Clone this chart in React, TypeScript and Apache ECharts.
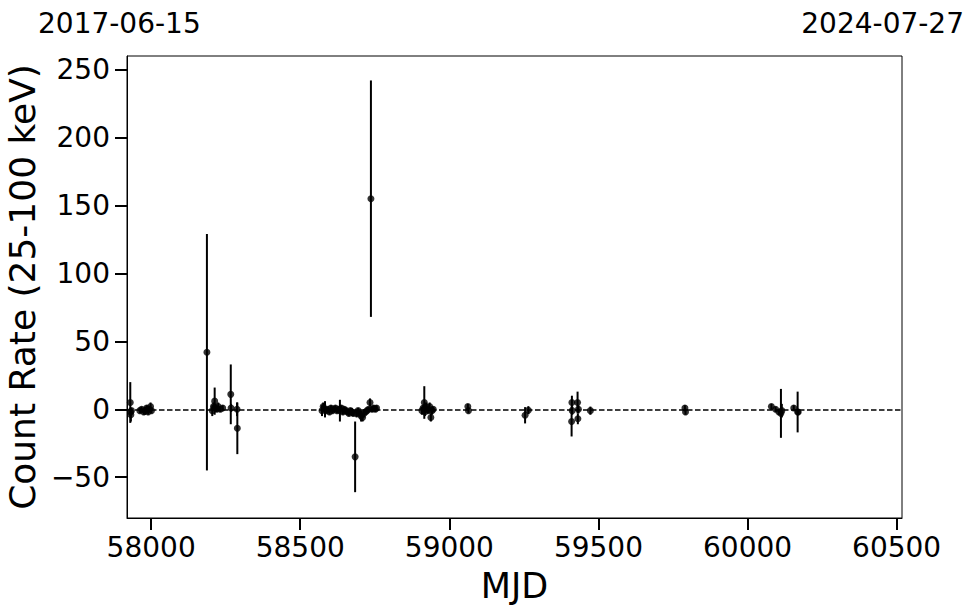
import React, { useEffect, useRef } from "react";
import * as echarts from "echarts";

// Observation times (MJD), count rates and 1-sigma errors
const mjd: number[] = [
  57930, 57931, 57932, 57934,
  57962, 57968, 57975, 57980, 57985, 57990, 57994, 57998, 58001,
  58187, 58205, 58209, 58213, 58216, 58220, 58225, 58232, 58240,
  58267, 58268, 58288, 58289,
  58573, 58577, 58583, 58588, 58593, 58598, 58603, 58608, 58613, 58618,
  58623, 58628, 58633, 58638, 58643, 58648, 58653, 58658, 58663, 58668,
  58673, 58678, 58684, 58689, 58694, 58699, 58704, 58709, 58714, 58719,
  58724, 58729, 58734, 58737, 58741, 58746, 58752, 58756,
  58908, 58912, 58916, 58918, 58922, 58926, 58930, 58934, 58938, 58942, 58946,
  59062, 59064,
  59254, 59265,
  59410, 59411, 59412, 59430, 59431, 59433, 59473,
  59790, 59792,
  60080, 60094, 60105, 60112, 60115, 60155, 60168, 60170,
];
const rate: number[] = [
  5, -2, -4, -1,
  -1, 0, -2, -1, 1, -2, 0, 2, -1,
  42, -1, 2, 6, 1, 0, 2, 0, 1,
  11, 1, 0, -14,
  -1, 2, 0, -1, 0, -2, 1, -1, 0, 1,
  -1, 0, -1, 1, -2, 0, -1, -2, -3, -1,
  -2, -3, -35, -3, -1, -3, -5, -6, -3, -2,
  -1, 0, 5, 155, 0, 1, 0, 1,
  -1, 1, 5, -2, 2, 0, -1, 2, -6, -1, 0,
  2, -1,
  -4.4, -0.7,
  -9, 5, -1, 5, -7, 0, -1,
  1, -2,
  2, 0, -2, -3, -1, 1, -2, -2,
];
const err: number[] = [
  15, 3, 5, 2,
  2, 2, 2, 3, 2, 2, 2, 3, 2,
  87, 4, 3, 10, 3, 2, 3, 2, 2,
  22, 3, 5, 19,
  4, 3, 6, 2, 2, 2, 2, 2, 2, 2,
  2, 2, 8, 2, 2, 2, 2, 2, 2, 2,
  3, 2, 26, 3, 2, 2, 4, 3, 3, 2,
  2, 2, 3, 87, 2, 2, 2, 2,
  3, 2, 12, 3, 3, 2, 2, 3, 3, 3, 2,
  2, 2,
  6, 3,
  11, 5, 3, 8, 4, 3, 3,
  2, 2,
  2, 2, 2, 18, 5, 2, 15, 2,
];

const xTicks: number[] = [58000, 58500, 59000, 59500, 60000, 60500];
const yTicks: number[] = [-50, 0, 50, 100, 150, 200, 250];
const dateLeft = "2017-06-15";
const dateRight = "2024-07-27";

const FONT = "DejaVu Sans";

export default function App() {
  const ref = useRef<HTMLDivElement>(null);
  useEffect(() => {
    document.body.style.margin = "0";
    if (!ref.current) return;
    const chart = echarts.init(ref.current, undefined, { renderer: "svg" });
    const data = mjd.map((m, i) => [m, rate[i], err[i]]);
    chart.setOption({
      animation: false,
      backgroundColor: "#fff",
      grid: {
        left: 127,
        top: 56,
        width: 775,
        height: 462,
        show: true,
        borderColor: "#000",
        borderWidth: 1,
        containLabel: false,
        outerBoundsMode: "none",
      },
      xAxis: {
        type: "value",
        min: 57919,
        max: 60518,
        splitLine: { show: false },
        axisLine: { show: true, onZero: false, lineStyle: { color: "#000", width: 1 } },
        axisTick: {
          show: true,
          customValues: xTicks,
          length: 12,
          lineStyle: { color: "#000", width: 2 },
        },
        axisLabel: {
          customValues: xTicks,
          fontSize: 28,
          color: "#000",
          fontFamily: FONT,
          margin: 15,
          formatter: (v: number) => String(v),
        },
        name: "MJD",
        nameLocation: "middle",
        nameGap: 50,
        nameTextStyle: { fontSize: 35, color: "#000", fontFamily: FONT },
      },
      yAxis: {
        type: "value",
        min: -80,
        max: 260,
        splitLine: { show: false },
        axisLine: { show: true, onZero: false, lineStyle: { color: "#000", width: 1 } },
        axisTick: {
          show: true,
          customValues: yTicks,
          length: 12,
          lineStyle: { color: "#000", width: 2 },
        },
        axisLabel: {
          customValues: yTicks,
          fontSize: 28,
          color: "#000",
          fontFamily: FONT,
          margin: 17,
          formatter: (v: number) => String(v).replace("-", "\u2212"),
        },
        name: "Count Rate (25-100 keV)",
        nameLocation: "middle",
        nameGap: 82,
        nameTextStyle: { fontSize: 36, color: "#000", fontFamily: FONT },
      },
      graphic: [
        {
          type: "text",
          left: 38,
          top: 9,
          style: { text: dateLeft, fontSize: 28, fill: "#000", fontFamily: FONT },
        },
        {
          type: "text",
          right: 16,
          top: 9,
          style: { text: dateRight, fontSize: 28, fill: "#000", fontFamily: FONT },
        },
      ],
      series: [
        {
          type: "custom",
          data,
          renderItem: (params: any, api: any) => {
            const x = api.value(0);
            const y = api.value(1);
            const e = api.value(2);
            const p1 = api.coord([x, y + e]);
            const p2 = api.coord([x, y - e]);
            return {
              type: "line",
              shape: { x1: p1[0], y1: p1[1], x2: p2[0], y2: p2[1] },
              style: { stroke: "#000", lineWidth: 2 },
            };
          },
          z: 2,
        },
        {
          type: "scatter",
          data: data.map((d) => [d[0], d[1]]),
          symbol: "circle",
          symbolSize: 7,
          itemStyle: { color: "#000" },
          z: 3,
          markLine: {
            silent: true,
            symbol: ["none", "none"],
            label: { show: false },
            lineStyle: { color: "#000", type: [5.5, 2.5], width: 1.5 },
            data: [{ yAxis: 0 }],
            z: 1,
          },
        },
      ],
    });
    return () => chart.dispose();
  }, []);
  return <div ref={ref} style={{ width: 980, height: 613 }} />;
}
